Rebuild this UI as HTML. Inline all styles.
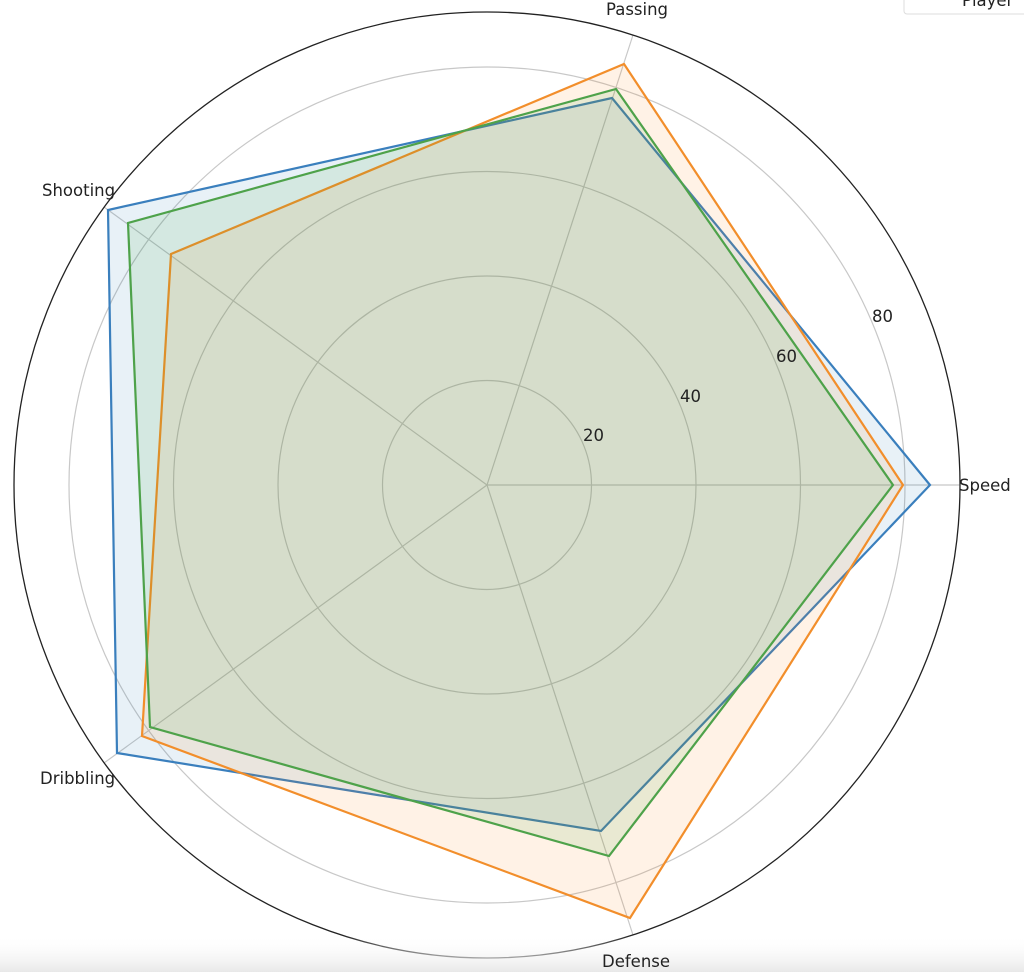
<!DOCTYPE html>
<html><head><style>
html,body{margin:0;padding:0;background:#fff;}
svg{display:block;font-family:"DejaVu Sans","Liberation Sans",sans-serif;}
</style></head><body>
<svg width="1024" height="972" viewBox="0 0 1024 972" xmlns="http://www.w3.org/2000/svg">
<defs><linearGradient id="g" x1="0" y1="0" x2="0" y2="1"><stop offset="0" stop-color="#fff" stop-opacity="0"/><stop offset="1" stop-color="#e8e8e8"/></linearGradient></defs>
<rect width="1024" height="972" fill="#fff"/>
<g fill="none" stroke="#c8c8c8" stroke-width="1.2">
<circle cx="487" cy="485" r="104.5"/>
<circle cx="487" cy="485" r="209"/>
<circle cx="487" cy="485" r="313.5"/>
<circle cx="487" cy="485" r="418"/>
<line x1="487" y1="485" x2="960" y2="485"/>
<line x1="487" y1="485" x2="633" y2="35"/>
<line x1="487" y1="485" x2="104" y2="207"/>
<line x1="487" y1="485" x2="104" y2="763"/>
<line x1="487" y1="485" x2="633" y2="935"/>
</g>
<polygon points="930,485 612,98 108,210 117,753 601,831" fill="#1f77b4" fill-opacity="0.1" stroke="#3a7fbd" stroke-width="2.2"/>
<polygon points="903,485 624,64 171,254 142,736 630,918" fill="#ff7f0e" fill-opacity="0.1" stroke="#f28e2b" stroke-width="2.2"/>
<polygon points="893,485 616,89 128,223 150,727 609,856" fill="#2ca02c" fill-opacity="0.1" stroke="#4ea24a" stroke-width="2.2"/>
<circle cx="487" cy="485" r="473" fill="none" stroke="#222" stroke-width="1.3"/>
<rect x="0" y="935" width="1024" height="37" fill="url(#g)"/>
<g font-size="16.5" fill="#222">
<text x="583" y="441">20</text>
<text x="680" y="402">40</text>
<text x="776" y="362">60</text>
<text x="872" y="322">80</text>
<text x="959" y="491">Speed</text>
<text x="606" y="15">Passing</text>
<text x="42" y="196">Shooting</text>
<text x="40" y="784">Dribbling</text>
<text x="602" y="967">Defense</text>
</g>
<rect x="904" y="-10" width="140" height="24" rx="3" fill="#fff" stroke="#ddd"/>
<text x="962" y="6" font-size="16.5" fill="#222">Player</text>
</svg>
</body></html>
